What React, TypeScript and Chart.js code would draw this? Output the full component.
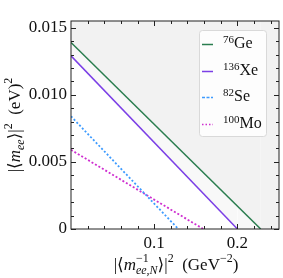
import React, { useEffect, useRef } from 'react';
import { Chart, registerables } from 'chart.js';

Chart.register(...registerables);

// ---- data ----
const massNumbers = ['76', '136', '82', '100'];
const elements = ['Ge', 'Xe', 'Se', 'Mo'];
// |<m_ee>|^2 at |<m^-1_ee,N>|^2 = 0  (eV^2)
const yIntercepts = [0.0139, 0.0129, 0.0084, 0.0059];
// |<m^-1_ee,N>|^2 where |<m_ee>|^2 = 0 (GeV^-2)
const xIntercepts = [0.228, 0.2, 0.129, 0.159];
const lineColors = ['#2a7d4f', '#7b3fe6', '#3d9bff', '#cf2fd0'];
const fillColors = ['#f2f2f2', '#f8f8f8', 'transparent', 'transparent'];
const lineDashes: number[][] = [[], [], [2, 2], [2, 2]];
const legendDashes: number[][] = [[], [], [3, 1.5], [1.5, 2]];
const xRange = [0, 0.25];
const yRange = [0, 0.0155];
const xTickValues = [0.1, 0.2];
const xTickLabels = ['0.1', '0.2'];
const yTickValues = [0, 0.005, 0.01, 0.015];
const yTickLabels = ['0', '0.005', '0.010', '0.015'];
const xMinorTicks = [0.02, 0.04, 0.06, 0.08, 0.12, 0.14, 0.16, 0.18, 0.22, 0.24];
const yMinorTicks = [
  0.001, 0.002, 0.003, 0.004, 0.006, 0.007, 0.008, 0.009,
  0.011, 0.012, 0.013, 0.014,
];

const FONT = '"Liberation Serif", "DejaVu Serif", serif';

type Piece = { t: string; sz: number; it?: boolean; dy?: number };
type Run = Piece | Piece[];

function setFont(ctx: CanvasRenderingContext2D, p: Piece) {
  ctx.font = `${p.it ? 'italic ' : ''}${p.sz}px ${FONT}`;
}
function runWidth(ctx: CanvasRenderingContext2D, r: Run): number {
  if (Array.isArray(r)) return Math.max(...r.map((p) => runWidth(ctx, p)));
  setFont(ctx, r);
  return ctx.measureText(r.t).width;
}
function drawRuns(ctx: CanvasRenderingContext2D, runs: Run[], cx: number, baseY: number) {
  const total = runs.reduce((s, r) => s + runWidth(ctx, r), 0);
  let x = cx - total / 2;
  ctx.textAlign = 'left';
  ctx.textBaseline = 'alphabetic';
  for (const r of runs) {
    const w = runWidth(ctx, r);
    const pieces = Array.isArray(r) ? r : [r];
    for (const p of pieces) {
      setFont(ctx, p);
      ctx.fillText(p.t, x, baseY + (p.dy || 0));
    }
    x += w;
  }
}

const xTitle: Run[] = [
  { t: '|⟨', sz: 17 },
  { t: 'm', sz: 17, it: true },
  [
    { t: '−1', sz: 12, dy: -8 },
    { t: 'ee,N', sz: 12, it: true, dy: 4 },
  ],
  { t: '⟩|', sz: 17 },
  { t: '2', sz: 12, dy: -8 },
  { t: '  (GeV', sz: 17 },
  { t: '−2', sz: 12, dy: -8 },
  { t: ')', sz: 17 },
];
const yTitle: Run[] = [
  { t: '|⟨', sz: 17 },
  { t: 'm', sz: 17, it: true },
  { t: 'ee', sz: 12, it: true, dy: 4 },
  { t: '⟩|', sz: 17 },
  { t: '2', sz: 12, dy: -8 },
  { t: '  (eV)', sz: 17 },
  { t: '2', sz: 12, dy: -8 },
];

const decorPlugin = {
  id: 'decor',
  afterDraw(chart: any) {
    const { ctx, chartArea: a, scales } = chart;
    const xs = scales.x;
    const ys = scales.y;
    ctx.save();
    ctx.strokeStyle = '#222';
    ctx.lineWidth = 1;
    ctx.setLineDash([]);
    ctx.strokeRect(a.left, a.top, a.right - a.left, a.bottom - a.top);
    const tick = (x1: number, y1: number, x2: number, y2: number) => {
      ctx.beginPath();
      ctx.moveTo(x1, y1);
      ctx.lineTo(x2, y2);
      ctx.stroke();
    };
    const xT = (v: number, len: number) => {
      const px = Math.round(xs.getPixelForValue(v)) + 0.5;
      tick(px, a.bottom, px, a.bottom - len);
      tick(px, a.top, px, a.top + len);
    };
    const yT = (v: number, len: number) => {
      const py = Math.round(ys.getPixelForValue(v)) + 0.5;
      tick(a.left, py, a.left + len, py);
      tick(a.right, py, a.right - len, py);
    };
    xTickValues.forEach((v) => xT(v, 5));
    xMinorTicks.forEach((v) => xT(v, 3));
    yTickValues.forEach((v) => yT(v, 5));
    yMinorTicks.forEach((v) => yT(v, 3));

    // legend
    const bx = 199.5, by = 30.5, bw = 67, bh = 106;
    ctx.beginPath();
    ctx.roundRect(bx, by, bw, bh, 3);
    ctx.fillStyle = 'rgba(255,255,255,0.8)';
    ctx.fill();
    ctx.strokeStyle = '#d9d9d9';
    ctx.stroke();
    const rowY = [44, 71, 97, 124];
    elements.forEach((el, i) => {
      const ly = rowY[i];
      ctx.strokeStyle = lineColors[i];
      ctx.lineWidth = 1.5;
      ctx.setLineDash(legendDashes[i]);
      ctx.beginPath();
      ctx.moveTo(202, ly + 0.5);
      ctx.lineTo(213, ly + 0.5);
      ctx.stroke();
      ctx.setLineDash([]);
      ctx.fillStyle = '#111';
      ctx.textAlign = 'left';
      ctx.textBaseline = 'alphabetic';
      ctx.font = `11px ${FONT}`;
      ctx.fillText(massNumbers[i], 223, ly - 1);
      const w = ctx.measureText(massNumbers[i]).width;
      ctx.font = `16px ${FONT}`;
      ctx.fillText(el, 223 + w, ly + 4);
    });

    // axis titles
    ctx.fillStyle = '#111';
    drawRuns(ctx, xTitle, (a.left + a.right) / 2 + 1, 270);
    ctx.save();
    ctx.translate(0, (a.top + a.bottom) / 2);
    ctx.rotate(-Math.PI / 2);
    drawRuns(ctx, yTitle, 0, 20);
    ctx.restore();
    ctx.restore();
  },
};

export default function App() {
  const ref = useRef<HTMLCanvasElement | null>(null);
  useEffect(() => {
    if (!ref.current) return;
    const datasets = elements.map((el, i) => {
      const pts = [
        { x: xRange[0], y: yIntercepts[i] },
        { x: xIntercepts[i], y: yRange[0] },
      ];
      if (i < 2) pts.push({ x: xRange[1], y: yRange[0] });
      return {
        label: massNumbers[i] + el,
        data: pts,
        borderColor: lineColors[i],
        borderWidth: i < 2 ? 1.5 : 1.8,
        borderDash: lineDashes[i],
        pointRadius: 0,
        tension: 0,
        fill: i < 2 ? 'end' : false,
        backgroundColor: fillColors[i],
        segment: {
          borderColor: (c: any) => (c.p0DataIndex === 1 ? 'rgba(0,0,0,0)' : lineColors[i]),
        },
      };
    });
    const chart = new Chart(ref.current, {
      type: 'line',
      data: { datasets: datasets as any },
      options: {
        responsive: false,
        animation: false,
        devicePixelRatio: 1,
        layout: { padding: { top: 21, right: 4, left: 0, bottom: 0 } },
        plugins: { legend: { display: false }, tooltip: { enabled: false } },
        scales: {
          x: {
            type: 'linear',
            min: xRange[0],
            max: xRange[1],
            grid: { display: false, drawTicks: false },
            border: { display: false },
            afterBuildTicks: (s: any) => {
              s.ticks = xTickValues.map((v) => ({ value: v }));
            },
            afterFit: (s: any) => {
              s.height = 49;
            },
            ticks: {
              autoSkip: false,
              maxRotation: 0,
              padding: 4,
              color: '#111',
              font: { family: FONT, size: 17 },
              callback: (_v: any, idx: number) => xTickLabels[idx],
            },
          },
          y: {
            type: 'linear',
            min: yRange[0],
            max: yRange[1],
            grid: { display: false, drawTicks: false },
            border: { display: false },
            afterBuildTicks: (s: any) => {
              s.ticks = yTickValues.map((v) => ({ value: v }));
            },
            afterFit: (s: any) => {
              s.width = 71;
            },
            ticks: {
              autoSkip: false,
              padding: 4,
              color: '#111',
              font: { family: FONT, size: 17 },
              callback: (_v: any, idx: number) => yTickLabels[idx],
            },
          },
        },
      },
      plugins: [decorPlugin],
    });
    return () => chart.destroy();
  }, []);
  return (
    <div style={{ position: 'fixed', left: 0, top: 0, width: 283, height: 278, background: '#fff' }}>
      <canvas ref={ref} width={283} height={278} style={{ width: 283, height: 278, display: 'block' }} />
    </div>
  );
}
